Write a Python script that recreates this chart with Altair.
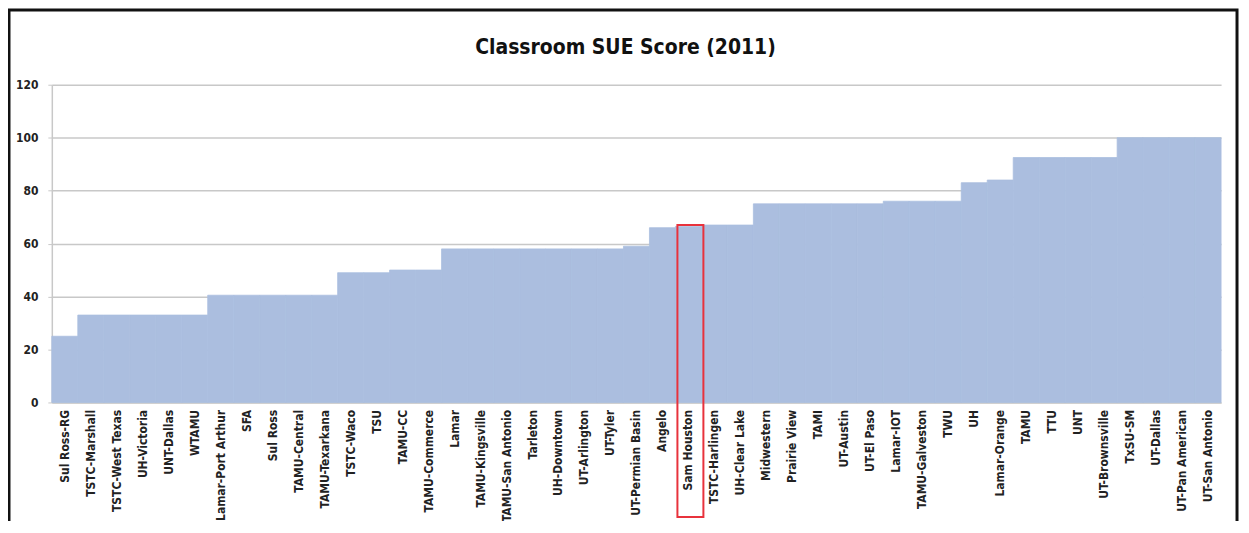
import altair as alt
import pandas as pd

categories = [
    "Sul Ross-RG", "TSTC-Marshall", "TSTC-West Texas", "UH-Victoria", "UNT-Dallas",
    "WTAMU", "Lamar-Port Arthur", "SFA", "Sul Ross", "TAMU-Central",
    "TAMU-Texarkana", "TSTC-Waco", "TSU", "TAMU-CC", "TAMU-Commerce",
    "Lamar", "TAMU-Kingsville", "TAMU-San Antonio", "Tarleton", "UH-Downtown",
    "UT-Arlington", "UT-Tyler", "UT-Permian Basin", "Angelo", "Sam Houston",
    "TSTC-Harlingen", "UH-Clear Lake", "Midwestern", "Prairie View", "TAMI",
    "UT-Austin", "UT-El Paso", "Lamar-IOT", "TAMU-Galveston", "TWU",
    "UH", "Lamar-Orange", "TAMU", "TTU", "UNT",
    "UT-Brownsville", "TxSU-SM", "UT-Dallas", "UT-Pan American", "UT-San Antonio",
]
scores = [
    25, 33, 33, 33, 33,
    33, 40.5, 40.5, 40.5, 40.5,
    40.5, 49, 49, 50, 50,
    58, 58, 58, 58, 58,
    58, 58, 59, 66, 66.5,
    67, 67, 75, 75, 75,
    75, 75, 76, 76, 76,
    83, 84, 92.5, 92.5, 92.5,
    92.5, 100, 100, 100, 100,
]
y_ticks = [0, 20, 40, 60, 80, 100, 120]
highlight = "Sam Houston"
highlight_top = 67
title_text = "Classroom SUE Score (2011)"

df = pd.DataFrame({"school": categories, "score": scores})

W, H = 1174, 319
FONT = "Liberation Sans Narrow, DejaVu Sans Condensed, Arial Narrow, sans-serif"
BAR = "#abbedf"

xscale = alt.Scale(domain=categories, paddingInner=0, paddingOuter=0)
yscale = alt.Scale(domain=[0, 120], nice=False)

bars = alt.Chart(df).mark_bar(color=BAR, stroke=BAR, strokeWidth=0.8).encode(
    x=alt.X("school:N", scale=xscale, sort=None, title=None,
            axis=alt.Axis(labelAngle=-90, labelAlign="right", labelBaseline="middle",
                          ticks=False, labelPadding=7, domain=True, domainColor="#c8c8c8",
                          labelFont=FONT, labelFontSize=12, labelFontWeight="bold",
                          labelColor="#222222", labelOverlap=False)),
    y=alt.Y("score:Q", scale=yscale, title=None,
            axis=alt.Axis(values=y_ticks, grid=True, gridColor="#c8c8c8", gridWidth=1.5,
                          domainColor="#c8c8c8", domainWidth=1.5, tickColor="#c8c8c8",
                          tickSize=4, labelPadding=10, labelFont=FONT, labelFontSize=12,
                          labelFontWeight="bold", labelColor="#222222")),
)

box_df = pd.DataFrame({"school": [highlight], "top": [highlight_top], "title": [title_text]})
box = alt.Chart(box_df).mark_rect(filled=False, stroke="#e8323c", strokeWidth=2,
                                   clip=False, xOffset=2).encode(
    x=alt.X("school:N", scale=xscale, sort=None),
    y=alt.Y("top:Q", scale=yscale),
    y2=alt.value(H + 115),
)

frame = alt.Chart(box_df).mark_rect(filled=False, stroke="#111111", strokeWidth=3,
                                     clip=False).encode(
    x=alt.value(-43), x2=alt.value(W + 16),
    y=alt.value(-75), y2=alt.value(H + 200),
)

title = alt.Chart(box_df).mark_text(font=FONT, fontSize=21, fontWeight="bold",
                                     color="#111111", align="center",
                                     baseline="alphabetic", clip=False).encode(
    x=alt.value(576), y=alt.value(-31), text="title:N",
)

chart = alt.layer(bars, box, frame, title).properties(
    width=W, height=H,
    autosize=alt.AutoSizeParams(type="none"),
    padding={"left": 44, "top": 76, "right": 20, "bottom": 118},
).configure_view(stroke=None)

chart.save("out.html", embed_options={"renderer": "svg", "actions": False})
